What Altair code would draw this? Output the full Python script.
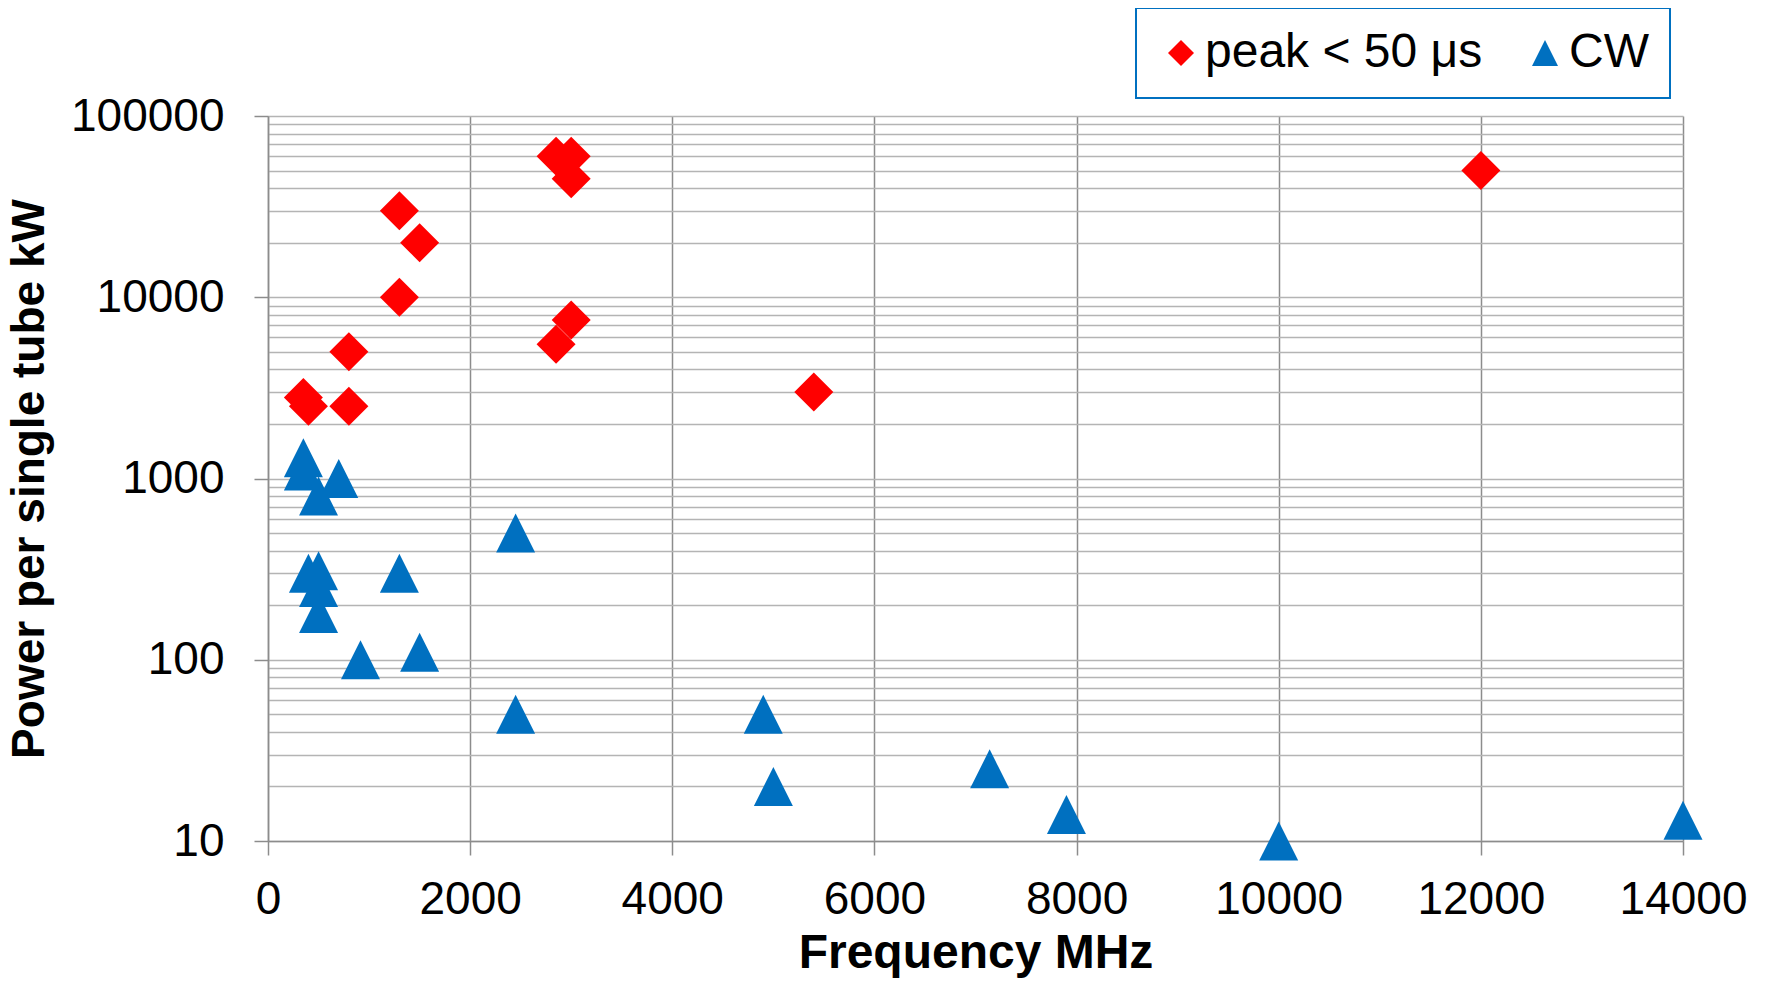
import altair as alt
import pandas as pd

# ---- data ----
series_names = ["peak < 50 μs", "CW"]

peak_freq = [350, 400, 800, 800, 1300, 1300, 1500, 2850, 3000, 3000, 2850, 3000, 5400, 12000]
peak_power = [2800, 2500, 5000, 2500, 30000, 10000, 20000, 60000, 60000, 45000, 5500, 7500, 3000, 50000]

cw_freq = [350, 350, 700, 500, 400, 500, 500, 500, 1300, 915, 1500, 2450, 2450, 4900, 5000, 7140, 7900, 10000, 14000]
cw_power = [1300, 1100, 1000, 800, 300, 310, 250, 180, 300, 100, 110, 500, 50, 50, 20, 25, 14, 10, 13]

x_ticks = [0, 2000, 4000, 6000, 8000, 10000, 12000, 14000]
y_decades = [10, 100, 1000, 10000, 100000]
y_grid = [d * k for d in [10, 100, 1000, 10000] for k in range(1, 10)] + [100000]

df = pd.DataFrame({
    "freq": peak_freq + cw_freq,
    "power": peak_power + cw_power,
    "series": [series_names[0]] * len(peak_freq) + [series_names[1]] * len(cw_freq),
})

FONT = "Liberation Sans"
tri_path = "M0,-1L1,1L-1,1Z"
decade_test = "indexof([10,100,1000,10000,100000], datum.value) >= 0"

legend = alt.Legend(
    title=None,
    orient="none",
    legendX=868,
    legendY=-108,
    direction="horizontal",
    symbolSize=676,
    symbolStrokeWidth=0,
    labelFont=FONT,
    labelFontSize=48,
    labelColor="black",
    labelOffset=0,
    labelLimit=500,
    columnPadding=38,
    padding=21,
    strokeColor="#0070C0",
    fillColor="white",
)

chart = alt.Chart(df).mark_point(
    filled=True, size=1521, opacity=1, strokeWidth=0
).encode(
    x=alt.X(
        "freq:Q",
        scale=alt.Scale(domain=[0, 14000], nice=False, zero=False),
        axis=alt.Axis(
            values=x_ticks,
            format="d",
            title="Frequency MHz",
            grid=True,
            gridColor="#8c8c8c",
            gridWidth=1.5,
            tickColor="#8c8c8c",
            tickSize=14,
            tickWidth=1.5,
            domainColor="#8c8c8c",
            domainWidth=1.5,
            labelFont=FONT,
            labelFontSize=46,
            labelColor="black",
            labelPadding=22,
            labelFlush=False,
            labelOverlap=False,
            titleFont=FONT,
            titleFontSize=48,
            titleFontWeight="bold",
            titleColor="black",
            titlePadding=7,
        ),
    ),
    y=alt.Y(
        "power:Q",
        scale=alt.Scale(type="log", domain=[10, 100000], nice=False),
        axis=alt.Axis(
            values=y_grid,
            labelExpr=f"{decade_test} ? format(datum.value, 'd') : ''",
            title="Power per single tube kW",
            grid=True,
            gridColor="#b4b4b4",
            gridWidth=1.5,
            tickColor="#8c8c8c",
            tickSize=14,
            tickWidth=1.5,
            tickOpacity={"condition": {"test": decade_test, "value": 1}, "value": 0},
            domainColor="#8c8c8c",
            domainWidth=1.5,
            labelFont=FONT,
            labelFontSize=46,
            labelColor="black",
            labelPadding=30,
            labelFlush=False,
            labelOverlap=False,
            titleFont=FONT,
            titleFontSize=46,
            titleFontWeight="bold",
            titleColor="black",
            titlePadding=17,
        ),
    ),
    color=alt.Color(
        "series:N",
        scale=alt.Scale(domain=series_names, range=["#FF0000", "#0070C0"]),
        legend=legend,
    ),
    shape=alt.Shape(
        "series:N",
        scale=alt.Scale(domain=series_names, range=["diamond", tri_path]),
        legend=legend,
    ),
).properties(
    width=1415,
    height=725,
    autosize=alt.AutoSizeParams(type="none"),
    padding={"left": 260, "top": 108, "right": 66, "bottom": 137},
).configure_view(
    stroke=None
).configure_legend(
    strokeWidth=2
)

chart.save("out.html", embed_options={"renderer": "svg", "actions": False})
